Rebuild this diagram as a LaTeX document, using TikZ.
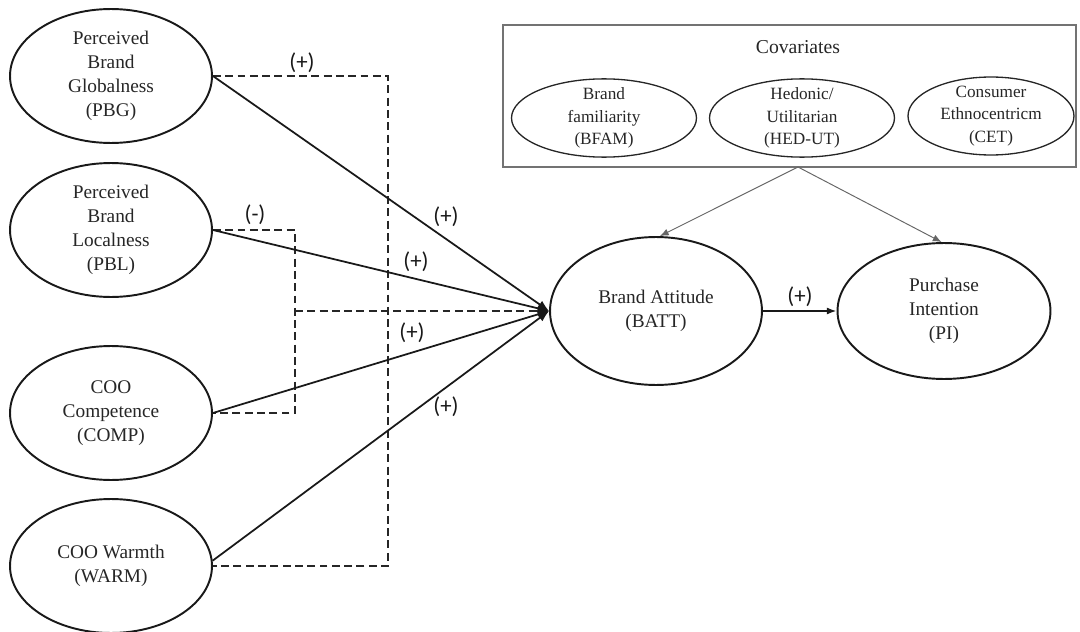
\documentclass[tikz,border=0pt]{standalone}
\usepackage{fontspec}
\setmainfont{Liberation Serif}
\newfontfamily\signfont{Carlito}
\usetikzlibrary{shapes.geometric,arrows.meta}

\begin{document}
\begin{tikzpicture}[x=0.02cm,y=-0.02cm,
construct/.style={draw=black!90,line width=1.1pt,ellipse,inner sep=0pt,align=center,text=black!85,font=\fontsize{11}{13.6}\selectfont},
covar/.style={draw=black!85,line width=0.75pt,ellipse,inner xsep=0pt,inner ysep=-1.5pt,minimum height=1.56cm,align=center,text=black!85,font=\fontsize{9.8}{12.8}\selectfont},
sign/.style={inner sep=0pt,text=black!90,font=\signfont\fontsize{13}{15}\selectfont},
effect/.style={draw=black!90,line width=1pt,-{Latex[length=6.5pt,width=5pt]}},
moderate/.style={draw=black!85,line width=0.9pt,dash pattern=on 4.5pt off 2.5pt},
control/.style={draw=black!60,line width=0.55pt,-{Latex[length=5pt,width=4pt]}}]
\useasboundingbox (0,0) rectangle (1080,632);
\node[construct,minimum width=4.04cm,minimum height=2.68cm] (pbg) at (111,76) {Perceived\\Brand\\Globalness\\(PBG)};
\node[construct,minimum width=4.04cm,minimum height=2.68cm] (pbl) at (111,230) {Perceived\\Brand\\Localness\\(PBL)};
\node[construct,minimum width=4.04cm,minimum height=2.68cm] (comp) at (111,413) {COO\\Competence\\(COMP)};
\node[construct,minimum width=4.04cm,minimum height=2.68cm] (warm) at (111,566) {COO Warmth\\(WARM)};
\node[construct,minimum width=4.24cm,minimum height=2.96cm] (batt) at (656,311) {Brand Attitude\\(BATT)};
\node[construct,minimum width=4.26cm,minimum height=2.72cm] (pi) at (944,311) {Purchase\\Intention\\(PI)};
\node[draw=black!55,line width=1.1pt,minimum width=11.46cm,minimum height=2.84cm,inner sep=0pt] (cov) at (789.5,96) {};
\node[inner sep=0pt,text=black!85,font=\fontsize{11.2}{13}\selectfont] (covtitle) at (798,47) {Covariates};
\node[covar,minimum width=3.7cm] (bfam) at (604,118) {Brand\\familiarity\\(BFAM)};
\node[covar,minimum width=3.7cm] (hedut) at (802,118) {Hedonic/\\Utilitarian\\(HED-UT)};
\node[covar,minimum width=3.32cm] (cet) at (991,116) {Consumer\\Ethnocentricm\\(CET)};
\coordinate (covout) at (798,167);
\coordinate (gx) at (388,0);
\coordinate (lx) at (295,0);
\draw[moderate] (pbg.east) -| (gx |- warm.east) -- (warm.east);
\draw[moderate] (pbl.east) -| (lx |- comp.east) -- (comp.east);
\draw[moderate,-{Latex[length=6.5pt,width=5pt]}] (lx |- batt.west) -- (batt.west);
\draw[effect] (pbg.east) -- (batt.west);
\draw[effect] (pbl.east) -- (batt.west);
\draw[effect] (comp.east) -- (batt.west);
\draw[effect] (warm.3) -- (batt.west);
\draw[effect,-{Latex[length=5.5pt,width=4pt]}] (batt.east) -- (pi.west);
\draw[control] (covout) -- (batt.87);
\draw[control] (covout) -- (pi.92);
\node[sign] (sgbg) at (302,63) {(+)};
\node[sign] (sgbl) at (255,215) {(-)};
\node[sign] (spbg) at (446,217) {(+)};
\node[sign] (spbl) at (416,262) {(+)};
\node[sign] (scomp) at (412,333) {(+)};
\node[sign] (swarm) at (446,407) {(+)};
\node[sign] (sbatt) at (800,297) {(+)};
\end{tikzpicture}
\end{document}
